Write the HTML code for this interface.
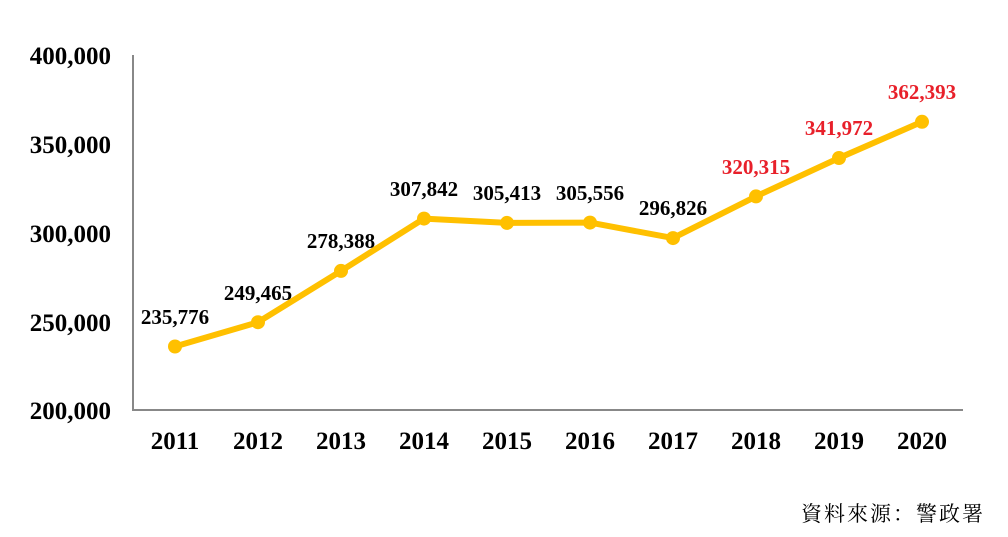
<!DOCTYPE html>
<html><head><meta charset="utf-8"><style>
html,body{margin:0;padding:0;background:#fff;}
svg text{font-family:"Liberation Serif","Noto Serif CJK SC",serif;font-weight:bold;}
</style></head><body>
<svg width="1008" height="532" xmlns="http://www.w3.org/2000/svg">
<polyline points="133,55 133,410 963,410" fill="none" stroke="#888" stroke-width="2"/>
<g font-size="25" text-anchor="end" fill="#000">
<text x="111" y="64">400,000</text>
<text x="111" y="153">350,000</text>
<text x="111" y="242">300,000</text>
<text x="111" y="331">250,000</text>
<text x="111" y="419">200,000</text>
</g>
<g font-size="25" text-anchor="middle" fill="#000">
<text x="175" y="449">2011</text><text x="258" y="449">2012</text><text x="341" y="449">2013</text>
<text x="424" y="449">2014</text><text x="507" y="449">2015</text><text x="590" y="449">2016</text>
<text x="673" y="449">2017</text><text x="756" y="449">2018</text><text x="839" y="449">2019</text>
<text x="922" y="449">2020</text>
</g>
<polyline points="175,346.5 258,322.2 341,270.9 424,218.6 507,222.9 590,222.6 673,238.1 756,196.4 839,158 922,121.8" fill="none" stroke="#FFC000" stroke-width="6" stroke-linejoin="round"/>
<g fill="#FFC000">
<circle cx="175" cy="346.5" r="7"/><circle cx="258" cy="322.2" r="7"/><circle cx="341" cy="270.9" r="7"/>
<circle cx="424" cy="218.6" r="7"/><circle cx="507" cy="222.9" r="7"/><circle cx="590" cy="222.6" r="7"/>
<circle cx="673" cy="238.1" r="7"/><circle cx="756" cy="196.4" r="7"/><circle cx="839" cy="158" r="7"/>
<circle cx="922" cy="121.8" r="7"/>
</g>
<g font-size="21" text-anchor="middle" fill="#000">
<text x="175" y="324">235,776</text><text x="258" y="300">249,465</text><text x="341" y="248">278,388</text>
<text x="424" y="196">307,842</text><text x="507" y="200">305,413</text><text x="590" y="200">305,556</text>
<text x="673" y="215">296,826</text>
</g>
<g font-size="21" text-anchor="middle" fill="#E8202A">
<text x="756" y="174">320,315</text><text x="839" y="135">341,972</text><text x="922" y="99">362,393</text>
</g>
<text x="985" y="521" font-size="21" text-anchor="end" style="font-weight:normal;font-family:'Noto Serif CJK SC',serif" fill="#000" letter-spacing="2">資料來源：警政署</text>
</svg>
</body></html>
